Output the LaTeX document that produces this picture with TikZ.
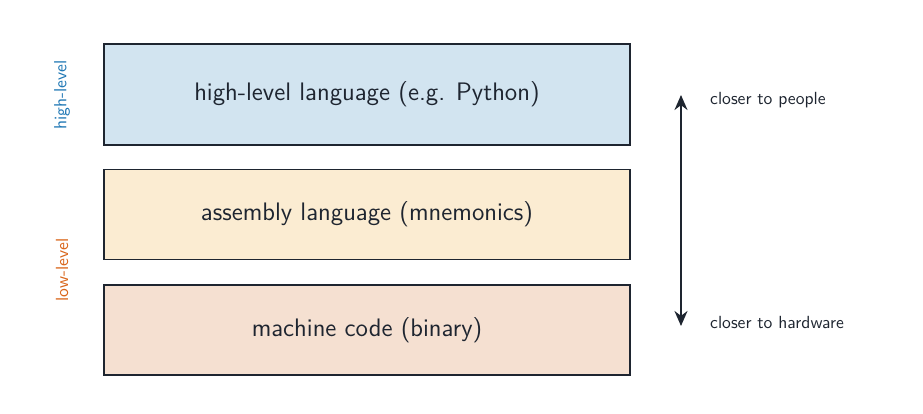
\documentclass[tikz,border=0pt]{standalone}
\usepackage{tikz}
\usetikzlibrary{positioning, arrows.meta}
\definecolor{ink}{HTML}{1E2530}
\definecolor{hifill}{HTML}{D2E4F0}
\definecolor{asmfill}{HTML}{FBECD2}
\definecolor{mcfill}{HTML}{F5E0D1}
\definecolor{hiblue}{HTML}{1F77B4}
\definecolor{loorange}{HTML}{D9651A}
\tikzset{
    layer/.style={draw=ink, thick, minimum width=10.52cm, text=ink, font=\sffamily\Large}, % one layer of the stack
    side/.style={font=\sffamily, anchor=west, text=ink}, % labels beside the arrow
    level/.style={font=\sffamily, rotate=90}, % rotated level labels
    >={Stealth[length=3mm, width=2.6mm]},
}
\begin{document}
\begin{tikzpicture}
    \useasboundingbox (0,0) rectangle (18.46,-8.28);
    \node[layer, fill=hifill, minimum height=2.02cm] (high) at (7.34,-1.89) {high-level language (e.g. Python)};
    \node[layer, fill=asmfill, minimum height=1.8cm, below=0.46cm of high] (asm) {assembly language (mnemonics)};
    \node[layer, fill=mcfill, minimum height=1.8cm, below=0.48cm of asm] (mc) {machine code (binary)};
    \coordinate (top) at (13.62,-1.9);
    \coordinate (bot) at (13.62,-6.52);
    \draw[<->, very thick, ink] (top) -- (bot);
    \node[side] (people) at (14.08,-2.0) {closer to people};
    \node[side] (hw) at (14.08,-6.44) {closer to hardware};
    \node[level, text=hiblue] (hilab) at (1.24,-1.9) {high-level};
    \node[level, text=loorange] (lolab) at (1.24,-5.4) {low-level};
\end{tikzpicture}
\end{document}
